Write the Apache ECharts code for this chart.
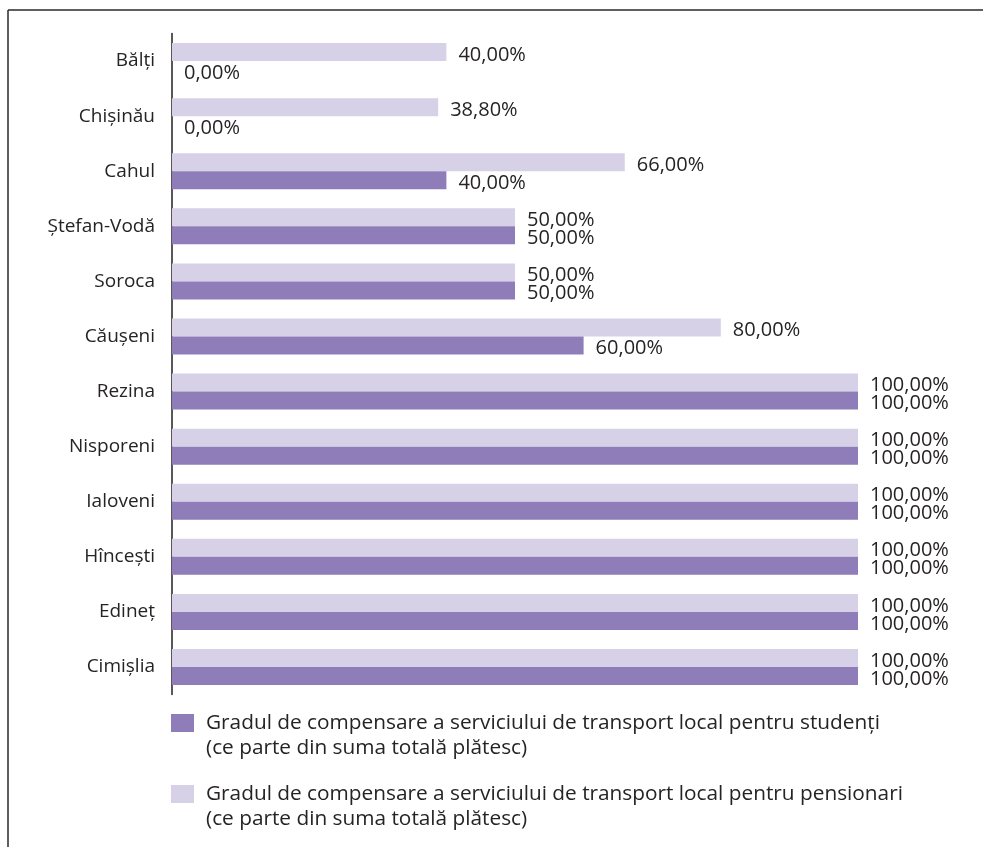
<!DOCTYPE html>
<html>
<head>
<meta charset="utf-8">
<script src="https://cdn.jsdelivr.net/npm/echarts@6/dist/echarts.min.js"></script>
<style>
  html, body { margin: 0; padding: 0; background: #fff; }
  #chart { width: 983px; height: 847px; }
</style>
</head>
<body>
<div id="chart"></div>
<script>
// Localities, top to bottom
const categories = ['Bălți', 'Chișinău', 'Cahul', 'Ștefan-Vodă', 'Soroca', 'Căușeni',
  'Rezina', 'Nisporeni', 'Ialoveni', 'Hîncești', 'Edineț', 'Cimișlia'];

// Share of the fare covered (%), pensioners
const pensionari = [40, 38.8, 66, 50, 50, 80, 100, 100, 100, 100, 100, 100];
// Share of the fare covered (%), students
const studenti = [0, 0, 40, 50, 50, 60, 100, 100, 100, 100, 100, 100];

const nameStudenti = 'Gradul de compensare a serviciului de transport local pentru studenți';
const namePensionari = 'Gradul de compensare a serviciului de transport local pentru pensionari';
const subLine = '(ce parte din suma totală plătesc)';

const COLOR_DARK = '#8f7db9';
const COLOR_LIGHT = '#d6d1e7';
const TEXT = '#262324';
const FONT = '"Open Sans", "Noto Sans", sans-serif';

const fmt = v => v.toFixed(2).replace('.', ',') + '%';

const valueLabel = {
  show: true,
  position: 'right',
  distance: 12,
  offset: [0, 3],
  color: TEXT,
  fontFamily: FONT,
  fontSize: 20,
  formatter: p => fmt(p.value)
};

const legendText = {
  color: TEXT,
  fontFamily: FONT,
  fontSize: 20.8,
  lineHeight: 25,
  padding: [0, 0, 0, 7]
};

// empty first line keeps the swatch level with the first line of the name
const legendFormatter = n => ' \n' + n + '\n' + subLine;

const chart = echarts.init(document.getElementById('chart'), null, { renderer: 'canvas' });

chart.setOption({
  backgroundColor: '#fff',
  animation: false,
  grid: { left: 172, right: 125, top: 33.5, height: 661, containLabel: false },
  xAxis: {
    type: 'value', min: 0, max: 100,
    show: false
  },
  yAxis: {
    type: 'category',
    data: categories,
    inverse: true,
    axisLine: { show: true, lineStyle: { color: '#231f20', width: 1.5 } },
    axisTick: { show: false },
    axisLabel: { color: TEXT, fontFamily: FONT, fontSize: 19, margin: 17 }
  },
  legend: [
    {
      data: [nameStudenti],
      left: 171, top: 685.5,
      padding: 0,
      itemWidth: 23, itemHeight: 18,
      icon: 'rect',
      textStyle: legendText,
      formatter: legendFormatter,
      selectedMode: false
    },
    {
      data: [namePensionari],
      left: 171, top: 756.5,
      padding: 0,
      itemWidth: 23, itemHeight: 18,
      icon: 'rect',
      textStyle: legendText,
      formatter: legendFormatter,
      selectedMode: false
    }
  ],
  series: [
    {
      name: namePensionari,
      type: 'bar',
      data: pensionari,
      barWidth: 18,
      barGap: '0%',
      itemStyle: { color: COLOR_LIGHT },
      label: valueLabel
    },
    {
      name: nameStudenti,
      type: 'bar',
      data: studenti,
      barWidth: 18,
      barGap: '0%',
      itemStyle: { color: COLOR_DARK },
      label: valueLabel
    }
  ],
  graphic: [
    // open frame: top and left rules
    { type: 'line', shape: { x1: 8, y1: 10, x2: 983, y2: 10 }, style: { stroke: '#2a2a2a', lineWidth: 1.5 } },
    { type: 'line', shape: { x1: 8, y1: 10, x2: 8, y2: 847 }, style: { stroke: '#2a2a2a', lineWidth: 1.5 } }
  ]
});
</script>
</body>
</html>
